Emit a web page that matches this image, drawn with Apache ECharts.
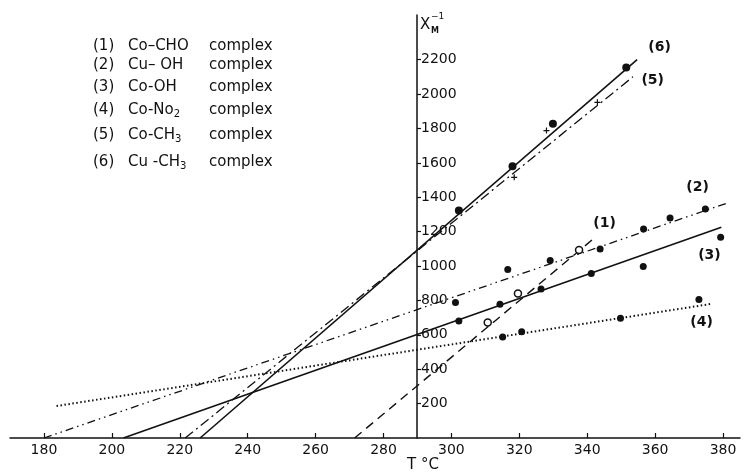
<!DOCTYPE html>
<html>
<head>
<meta charset="utf-8">
<script src="https://cdn.jsdelivr.net/npm/echarts@6/dist/echarts.min.js"></script>
<style>
  html, body { margin: 0; padding: 0; background: #fff; }
  #chart { width: 744px; height: 475px; }
</style>
</head>
<body>
<div id="chart"></div>
<script>
// tick labels
var tempTicks = [180, 200, 220, 240, 260, 280, 300, 320, 340, 360, 380];
var chiTicks = [200, 400, 600, 800, 1000, 1200, 1400, 1600, 1800, 2000, 2200];

// (1) Co-CHO : dashed fit + open circles
var coChoFit = [[271.5, 0], [342.6, 1171]];
var coChoPts = [[310.7, 672], [319.6, 841], [337.6, 1093]];
// (2) Cu-OH : dash-dot-dot fit
var cuOhFit = [[180, 0], [381, 1365]];
var cuOhPts = [[301.2, 788], [316.6, 980], [329.1, 1032], [343.8, 1099], [356.6, 1216], [364.4, 1280], [374.8, 1332]];
// (3) Co-OH : solid fit
var coOhFit = [[203.4, 0], [379.5, 1225]];
var coOhPts = [[302.2, 681], [314.3, 778], [326.4, 866], [341.2, 957], [356.5, 998], [379.3, 1168]];
// (4) Co-NO2 : dotted fit
var coNo2Fit = [[183.7, 186], [376.9, 781]];
var coNo2Pts = [[315.1, 588], [320.7, 618], [349.8, 697], [372.9, 806]];
// (5) Co-CH3 : dash-dot fit + crosses
var coCh3Fit = [[221.6, 0], [353.5, 2101]];
var coCh3Pts = [[318.5, 1516], [328.0, 1788], [343.0, 1952]];
// (6) Cu-CH3 : solid fit
var cuCh3Fit = [[226, 0], [354.7, 2200]];
var cuCh3Pts = [[302.2, 1323], [318, 1580], [329.9, 1828], [351.5, 2154]];

// curve tags
var tagNames = ['(6)', '(5)', '(2)', '(1)', '(3)', '(4)'];
var tagT = [361.3, 359.3, 372.5, 345.1, 376, 373.7];
var tagV = [2270, 2078, 1457, 1248, 1062, 672];

// key text
var keyNums = ['(1)', '(2)', '(3)', '(4)', '(5)', '(6)'];
var keyNames = ['Co\u2013CHO', 'Cu\u2013 OH', 'Co-OH', 'Co-No{sub|2}', 'Co-CH{sub|3}', 'Cu -CH{sub|3}'];

var ink = '#111';
var font = 'DejaVu Sans';

var chart = echarts.init(document.getElementById('chart'));

function fitLine(data, type, width) {
    return {
        type: 'line',
        data: data,
        symbol: 'none',
        silent: true,
        lineStyle: { color: ink, width: width || 1.4, type: type, opacity: 1 }
    };
}

function dots(data, symbol, size, fill) {
    return {
        type: 'scatter',
        data: data,
        symbol: symbol,
        symbolSize: size,
        itemStyle: { color: fill || ink, borderColor: ink, borderWidth: fill ? 1.5 : 0, opacity: 1 },
        z: 5
    };
}

var tagData = [];
for (var i = 0; i < tagNames.length; i++) {
    tagData.push({ name: tagNames[i], value: [tagT[i], tagV[i]] });
}

var keyRows = [48, 67, 89, 112, 137, 164];
var keyGraphics = [];
for (var k = 0; k < keyNums.length; k++) {
    keyGraphics.push({ type: 'text', left: 93, top: keyRows[k] - 9, style: { text: keyNums[k], fill: ink, font: '15px "' + font + '"' } });
    keyGraphics.push({ type: 'text', left: 128, top: keyRows[k] - 9, style: {
        text: keyNames[k], fill: ink, font: '15px "' + font + '"',
        rich: { sub: { fontSize: 10, verticalAlign: 'bottom', padding: [8, 0, 0, 0], fill: ink, fontFamily: font } }
    } });
    keyGraphics.push({ type: 'text', left: 209, top: keyRows[k] - 9, style: { text: 'complex', fill: ink, font: '15px "' + font + '"' } });
}

var option = {
    backgroundColor: '#fff',
    animation: false,
    textStyle: { fontFamily: font, color: ink },
    grid: { left: 10, right: 4, top: 15, bottom: 37 },
    xAxis: {
        type: 'value',
        min: 170,
        max: 385,
        splitLine: { show: false },
        axisLine: { lineStyle: { color: ink, width: 1.5 } },
        axisTick: { inside: true, length: 5, customValues: tempTicks, lineStyle: { color: ink, width: 1.2 } },
        axisLabel: { customValues: tempTicks, margin: 5, fontSize: 14, color: ink, fontFamily: font,
            formatter: function (v) { return String(v); } }
    },
    yAxis: {
        type: 'value',
        min: 0,
        max: 2460,
        offset: -407,
        splitLine: { show: false },
        axisLine: { show: true, lineStyle: { color: ink, width: 1.5 } },
        axisTick: { inside: true, length: 4, customValues: chiTicks, lineStyle: { color: ink, width: 1.2 } },
        axisLabel: { inside: true, customValues: chiTicks, margin: 4, fontSize: 14, color: ink, fontFamily: font,
            formatter: function (v) { return String(v); } }
    },
    graphic: keyGraphics.concat([
        { type: 'text', left: 420, top: 18, style: { text: 'X', fill: ink, font: '15px "' + font + '"' } },
        { type: 'text', left: 431, top: 12, style: { text: '\u22121', fill: ink, font: '9px "' + font + '"' } },
        { type: 'text', left: 431, top: 27, style: { text: 'M', fill: ink, font: 'bold 8px "' + font + '"' } },
        { type: 'text', left: 407, top: 458, style: { text: 'T \u00B0C', fill: ink, font: '15px "' + font + '"' } }
    ]),
    series: [
        fitLine(coChoFit, [9, 6]),
        dots(coChoPts, 'circle', 7, '#fff'),
        fitLine(cuOhFit, [8, 4, 1.5, 4, 1.5, 4], 1.3),
        dots(cuOhPts, 'circle', 7),
        fitLine(coOhFit, 'solid', 1.6),
        dots(coOhPts, 'circle', 7),
        fitLine(coNo2Fit, [1.5, 2.5], 2),
        dots(coNo2Pts, 'circle', 7),
        fitLine(coCh3Fit, [10, 4, 2, 4], 1.3),
        dots(coCh3Pts, 'path://M4,0H6V4H10V6H6V10H4V6H0V4H4Z', 6),
        fitLine(cuCh3Fit, 'solid', 1.6),
        dots(cuCh3Pts, 'circle', 8),
        {
            type: 'scatter',
            data: tagData,
            symbolSize: 0,
            silent: true,
            itemStyle: { opacity: 1 },
            label: {
                show: true,
                position: 'inside',
                formatter: '{b}',
                fontSize: 14,
                fontWeight: 'bold',
                color: ink,
                opacity: 1,
                fontFamily: font
            }
        }
    ]
};

chart.setOption(option);
</script>
</body>
</html>
